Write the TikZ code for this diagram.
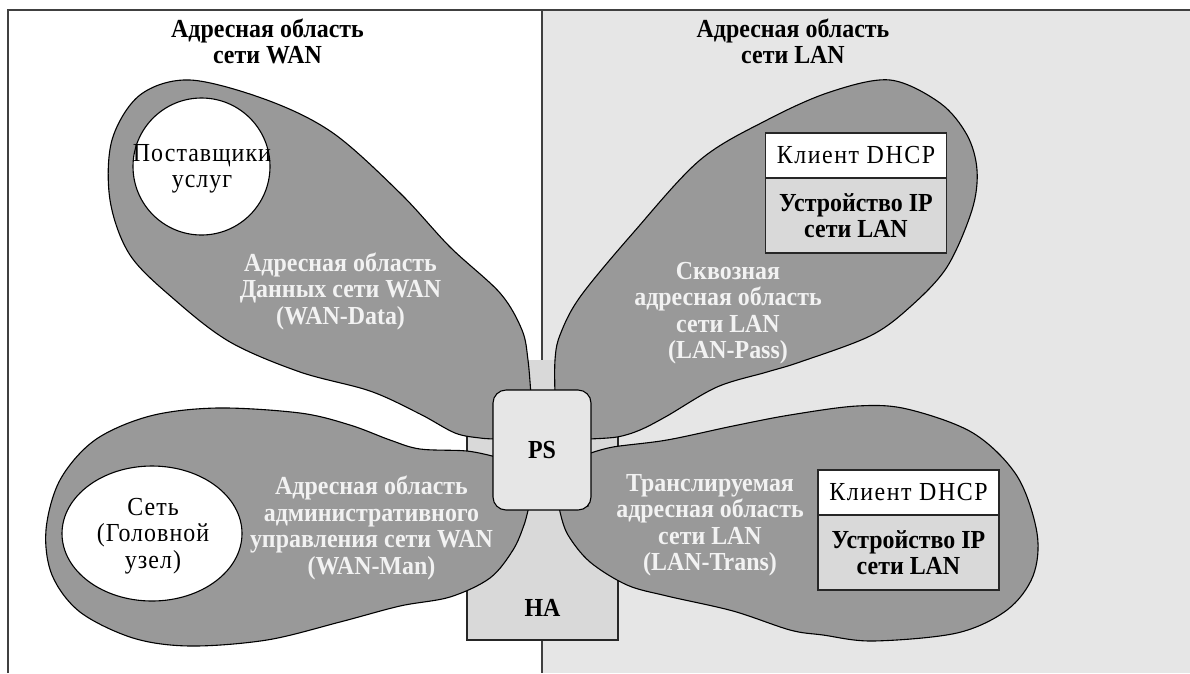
\documentclass[tikz,border=0pt]{standalone}
\usepackage{fontspec}
\setmainfont[FakeStretch=0.92]{Liberation Serif}
\newfontfamily\spacedserif[FakeStretch=0.92,LetterSpace=4]{Liberation Serif}
\newfontfamily\widespaced[FakeStretch=0.92,LetterSpace=6]{Liberation Serif}

\definecolor{petalgray}{HTML}{999999}
\definecolor{lanbg}{HTML}{E6E6E6}
\definecolor{hagray}{HTML}{D9D9D9}
\definecolor{psgray}{HTML}{E6E6E6}
\definecolor{labelwhite}{HTML}{F2F2F2}
\definecolor{framegray}{HTML}{404040}

\tikzset{
  frame/.style={draw=framegray, line width=1.4pt},
  edge/.style={draw=black!85, line width=1.1pt},
  petal/.style={draw=black, line width=1.1pt, fill=petalgray},
  hole/.style={draw=black, line width=1.1pt, fill=white},
  title/.style={font=\bfseries\fontsize{26}{26}\selectfont, align=center, inner sep=0pt},
  area/.style={font=\bfseries\fontsize{26}{26.5}\selectfont, align=center, text=labelwhite, inner sep=0pt},
  plaintext/.style={font=\spacedserif\fontsize{26}{26.5}\selectfont, align=center, inner sep=0pt},
  clientbox/.style={draw=black!85, line width=1.1pt, fill=white, minimum width=181pt, minimum height=45pt,
    inner sep=0pt, font=\widespaced\fontsize{26}{26}\selectfont},
  devicebox/.style={draw=black!85, line width=1.1pt, fill=hagray, minimum width=181pt, minimum height=75pt,
    inner sep=0pt, align=center, font=\bfseries\fontsize{26}{26}\selectfont},
  psbox/.style={draw=black, line width=1.1pt, fill=psgray, rounded corners=13pt, minimum width=98pt,
    minimum height=120pt, inner sep=0pt, font=\bfseries\fontsize{26}{26}\selectfont},
  boxlabel/.style={font=\bfseries\fontsize{26}{26}\selectfont, inner sep=0pt}
}

\begin{document}
\begin{tikzpicture}[x=1pt,y=-1pt]
\useasboundingbox (0,0) rectangle (1190,673);
\fill[white] (0,0) rectangle (1190,673);

% LAN half and frame
\fill[lanbg] (542,10) rectangle (1190,673);
\draw[frame] (8,673) -- (8,10) -- (1190,10);
\draw[frame] (542,10) -- (542,673);

% HA block behind the petals
\fill[hagray] (467,360) rectangle (618,640);
\draw[edge] (467,360) -- (467,640) -- (618,640) -- (618,360);

% WAN-Data petal
\filldraw[petal] plot[smooth, tension=0.55] coordinates {
  (531,396) (528,360) (522,330) (500,293) (450,247) (400,193) (333,133) (267,100)
  (190,80) (140,95) (112,140) (110,200) (130,255) (175,300) (230,342) (300,372)
  (370,391) (420,414) (455,433) (480,438) (496,439)} -- (531,439) -- cycle;

% WAN-Man petal
\filldraw[petal] plot[smooth, tension=0.55] coordinates {
  (496,457) (467,451) (420,449) (390,440) (350,425) (300,413) (217,408) (150,416)
  (95,440) (60,480) (46,530) (52,575) (80,612) (133,638) (190,646) (267,640)
  (340,622) (400,606) (450,597) (490,578) (513,550) (524,525) (529,506)} -- (500,506) -- cycle;

% LAN-Pass petal
\filldraw[petal] plot[smooth, tension=0.55] coordinates {
  (555,396) (555,360) (560,335) (580,297) (633,233) (700,160) (767,120) (830,92)
  (890,80) (940,103) (967,135) (977,170) (972,210) (947,267) (910,307) (870,336)
  (800,362) (767,372) (717,387) (667,416) (640,430) (617,437) (588,439)} -- (555,439) -- cycle;

% LAN-Trans petal
\filldraw[petal] plot[smooth, tension=0.55] coordinates {
  (588,454) (613,447) (667,440) (733,426) (790,415) (857,406) (907,409) (973,433)
  (1017,476) (1037,533) (1033,576) (1007,610) (957,633) (873,641) (823,635) (790,630)
  (733,611) (667,596) (627,585) (590,562) (568,535) (560,512) (560,506)} -- (588,506) -- cycle;

% white holes inside the WAN petals
\draw[hole] (201.5,166.5) circle[radius=68.5];
\draw[hole] (152,533.5) ellipse[x radius=90, y radius=67.5];

% central boxes
\node[psbox] (ps) at (542,450) {PS};
\node[boxlabel] (ha) at (542.5,608) {HA};

% titles
\node[title] (wantitle) at (267.5,41.5) {Адресная область\\сети WAN};
\node[title] (lantitle) at (793,41.5) {Адресная область\\сети LAN};

% texts in the holes
\node[plaintext] (providers) at (202,169) {Поставщики\\услуг};
\node[plaintext] (headend) at (153,536) {Сеть\\(Головной\\узел)};

% area labels
\node[area] (wandata) at (340.5,291) {Адресная область\\Данных сети WAN\\(WAN-Data)};
\node[area] (wanman) at (371.5,528) {Адресная область\\административного\\управления сети WAN\\(WAN-Man)};
\node[area] (lanpass) at (728,313) {Сквозная\\адресная область\\сети LAN\\(LAN-Pass)};
\node[area] (lantrans) at (710,525) {Транслируемая\\адресная область\\сети LAN\\(LAN-Trans)};

% LAN devices
\node[clientbox] (client1) at (856,155.5) {Клиент DHCP};
\node[devicebox] (device1) at (856,215.5) {Устройство IP\\сети LAN};
\node[clientbox] (client2) at (908.5,492.5) {Клиент DHCP};
\node[devicebox] (device2) at (908.5,552.5) {Устройство IP\\сети LAN};
\end{tikzpicture}
\end{document}
